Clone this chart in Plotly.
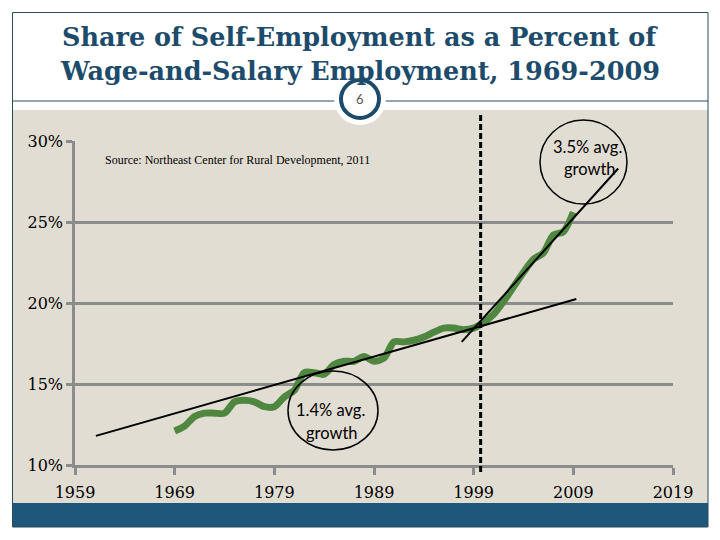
import plotly.graph_objects as go

# ---- data ----
years = list(range(1969, 2010))
share = [12.1, 12.4, 13.0, 13.2, 13.2, 13.2, 13.9, 14.0, 13.9, 13.6,
         13.6, 14.2, 14.6, 15.7, 15.7, 15.6, 16.2, 16.4, 16.4, 16.7,
         16.4, 16.6, 17.6, 17.6, 17.7, 17.9, 18.2, 18.45, 18.45, 18.35,
         18.45, 18.8, 19.3, 20.1, 21.0, 21.9, 22.7, 23.1, 24.2, 24.4, 25.6]

trend1_x = [1961.1, 2009.3]
trend1_y = [11.8, 20.25]
trend2_x = [1997.8, 2013.5]
trend2_y = [17.6, 28.3]

break_year = 1999.7
x_ticks = [1959, 1969, 1979, 1989, 1999, 2009, 2019]
y_ticks = [10, 15, 20, 25, 30]
y_tick_text = ["10%", "15%", "20%", "25%", "30%"]

# ---- layout geometry (page pixels; page has an 8px body margin) ----
OFF = 8
W, H = 720 - OFF, 540 - OFF
L, R, T, B = 75, 673, 141, 465   # plot area in page pixels


def px(x):
    return (x - L) / (R - L)


def py(y):
    return (B - y) / (B - T)


TITLE_BLUE = "#1D4B6B"
BEIGE = "#E2DDD2"
GRID = "#8C8C8C"
GREEN = "#4F8741"

fig = go.Figure()

fig.add_trace(go.Scatter(x=years, y=share, mode="lines",
                         line=dict(color=GREEN, width=7, shape="spline", smoothing=0.8),
                         hoverinfo="skip", showlegend=False))
fig.add_trace(go.Scatter(x=trend1_x, y=trend1_y, mode="lines",
                         line=dict(color="black", width=2), showlegend=False))
fig.add_trace(go.Scatter(x=trend2_x, y=trend2_y, mode="lines",
                         line=dict(color="black", width=2), showlegend=False))

shapes = []
# beige slide body
shapes.append(dict(type="rect", xref="paper", yref="paper", layer="below",
                   x0=px(12.5), x1=px(708), y0=py(503), y1=py(110),
                   fillcolor=BEIGE, line=dict(width=0)))
# blue bottom band
shapes.append(dict(type="rect", xref="paper", yref="paper", layer="below",
                   x0=px(12.5), x1=px(708), y0=py(527), y1=py(503),
                   fillcolor="#1E5779", line=dict(width=0)))
# slide frame
shapes.append(dict(type="rect", xref="paper", yref="paper", layer="below",
                   x0=px(12.5), x1=px(708), y0=py(527), y1=py(12.5),
                   fillcolor="rgba(0,0,0,0)", line=dict(color="#2C4A5E", width=1)))
# header separator
shapes.append(dict(type="line", xref="paper", yref="paper", layer="below",
                   x0=px(12.5), x1=px(708), y0=py(101), y1=py(101),
                   line=dict(color="#2C4A5E", width=1)))
# white halo + page number circle
shapes.append(dict(type="circle", xref="paper", yref="paper", layer="below",
                   x0=px(360 - 26), x1=px(360 + 26), y0=py(99 + 26), y1=py(99 - 26),
                   fillcolor="white", line=dict(width=0)))
shapes.append(dict(type="circle", xref="paper", yref="paper", layer="below",
                   x0=px(360 - 19), x1=px(360 + 19), y0=py(99 + 19), y1=py(99 - 19),
                   fillcolor="white", line=dict(color=TITLE_BLUE, width=4)))
# vertical dashed break line
shapes.append(dict(type="line", xref="x", yref="paper",
                   x0=break_year, x1=break_year, y0=py(472), y1=py(114),
                   line=dict(color="black", width=3, dash="6px,3px")))
# ellipses around growth labels
shapes.append(dict(type="circle", xref="paper", yref="paper",
                   x0=px(288), x1=px(378), y0=py(450), y1=py(371),
                   line=dict(color="black", width=1.5)))
shapes.append(dict(type="circle", xref="paper", yref="paper",
                   x0=px(540), x1=px(627), y0=py(204), y1=py(120),
                   line=dict(color="black", width=1.5)))

annotations = [
    dict(text="<b>Share of Self-Employment as a Percent of</b>", x=px(360), y=py(37),
         xref="paper", yref="paper", showarrow=False, xanchor="center", yanchor="middle",
         font=dict(family="DejaVu Serif", size=25.5, color=TITLE_BLUE)),
    dict(text="<b>Wage-and-Salary Employment, 1969-2009</b>", x=px(360), y=py(71),
         xref="paper", yref="paper", showarrow=False, xanchor="center", yanchor="middle",
         font=dict(family="DejaVu Serif", size=25.5, color=TITLE_BLUE)),
    dict(text="6", x=px(360), y=py(99), xref="paper", yref="paper", showarrow=False,
         xanchor="center", yanchor="middle",
         font=dict(family="Lato", size=13, color="#555555")),
    dict(text="Source: Northeast Center for Rural Development, 2011", x=px(103), y=py(160),
         xref="paper", yref="paper", showarrow=False, xanchor="left", yanchor="middle",
         font=dict(family="Liberation Serif", size=12, color="black")),
    dict(text="1.4% avg.", x=px(330), y=py(410), xref="paper", yref="paper",
         showarrow=False, xanchor="center", yanchor="middle",
         font=dict(family="Lato", size=16.5, color="black")),
    dict(text="growth", x=px(332), y=py(433), xref="paper", yref="paper",
         showarrow=False, xanchor="center", yanchor="middle",
         font=dict(family="Lato", size=16.5, color="black")),
    dict(text="3.5% avg.", x=px(587), y=py(147), xref="paper", yref="paper",
         showarrow=False, xanchor="center", yanchor="middle",
         font=dict(family="Lato", size=16.5, color="black")),
    dict(text="growth", x=px(590), y=py(169), xref="paper", yref="paper",
         showarrow=False, xanchor="center", yanchor="middle",
         font=dict(family="Lato", size=16.5, color="black")),
]

fig.update_layout(
    width=W, height=H, autosize=False,
    margin=dict(l=L - OFF, r=W - (R - OFF), t=T - OFF, b=H - (B - OFF), pad=0),
    paper_bgcolor="white", plot_bgcolor="rgba(0,0,0,0)",
    shapes=shapes, annotations=annotations, showlegend=False,
    xaxis=dict(range=[1959, 2019], tickvals=x_ticks, ticktext=[str(v) for v in x_ticks],
               showgrid=False, zeroline=False, showline=True, linecolor=GRID, linewidth=2.5,
               ticks="outside", ticklen=7, tickwidth=2.5, tickcolor=GRID,
               ticklabelstandoff=4,
               tickfont=dict(family="DejaVu Serif", size=16, color="black")),
    yaxis=dict(range=[10, 30], tickvals=y_ticks, ticktext=y_tick_text,
               showgrid=True, gridcolor=GRID, gridwidth=2.5, zeroline=False,
               showline=True, linecolor=GRID, linewidth=2.5,
               ticks="outside", ticklen=6, tickwidth=2.5, tickcolor=GRID,
               tickfont=dict(family="DejaVu Serif", size=16, color="black")),
)

fig.write_html("out.html")
